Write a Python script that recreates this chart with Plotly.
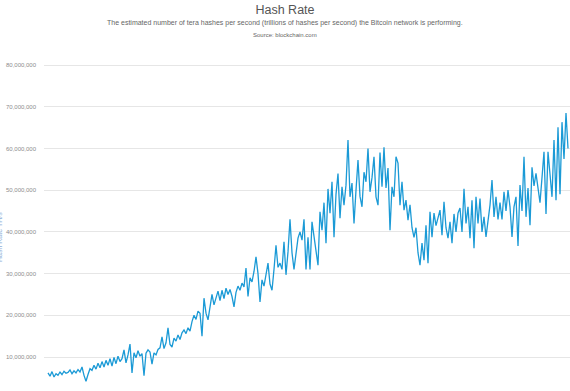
import plotly.graph_objects as go

# Hash rate values in millions of TH/s (roughly 2 px per sample)
hash_rate_millions = [
    6.2, 5.4, 6.5, 5.2, 6.0, 5.6, 6.4, 5.8, 6.6, 6.1,
    6.3, 6.9, 6.0, 6.7, 6.2, 7.0, 6.4, 7.6, 5.6, 4.2,
    5.8, 7.2, 6.8, 8.0, 7.1, 8.5, 7.4, 8.9, 7.6, 9.2,
    8.0, 9.6, 7.8, 9.9, 8.4, 10.2, 8.9, 9.6, 11.7, 8.6,
    10.5, 13.1, 6.2, 11.0, 9.8, 11.5, 10.2, 10.8, 5.5, 10.9,
    11.7, 11.2, 8.3, 11.0, 10.5, 11.8, 12.2, 14.8, 12.0, 13.4,
    17.0, 13.0, 12.4, 14.5, 13.8, 15.3, 14.2, 15.8, 16.5, 15.6,
    17.0, 16.2, 18.5, 20.0, 19.0, 21.0, 20.5, 15.0, 24.1, 20.5,
    18.9, 22.0, 25.0, 22.5, 24.5, 25.8, 23.5, 26.0, 24.0, 26.5,
    25.0, 26.2, 24.5, 22.0, 25.5, 27.0, 26.0, 27.7, 26.8, 31.3,
    24.5, 29.0, 28.0, 30.5, 34.0, 30.0, 23.2, 28.5, 27.0, 30.0,
    32.5, 27.5, 26.0, 31.0, 36.8, 31.5, 32.5, 31.0, 37.6, 29.7,
    35.2, 43.0, 35.0, 31.0, 35.5, 38.5, 40.0, 38.0, 43.0, 31.0,
    38.7, 31.0, 42.4, 39.0, 36.4, 32.0, 44.8, 40.4, 47.0, 37.3,
    50.3, 44.5, 52.0, 38.7, 49.0, 54.0, 43.3, 50.8, 46.4, 51.2,
    62.0, 48.4, 51.7, 42.0, 50.0, 57.2, 48.5, 46.0, 54.3, 52.0,
    60.0, 49.6, 53.0, 58.0, 48.4, 46.4, 59.0, 50.8, 60.3, 50.5,
    55.3, 40.4, 50.8, 48.4, 58.0, 56.5, 46.4, 52.0, 45.2, 47.6,
    42.8, 46.5, 41.0, 38.7, 41.0, 35.0, 32.0, 37.3, 33.2, 41.6,
    32.5, 44.8, 38.7, 44.5, 41.5, 43.5, 45.2, 39.2, 47.2, 41.0,
    38.5, 42.4, 37.3, 44.3, 40.0, 44.5, 45.7, 40.0, 50.3, 42.0,
    46.0, 38.5, 47.6, 36.1, 48.4, 42.0, 48.0, 40.0, 43.6, 38.8,
    43.0, 46.4, 52.4, 43.6, 48.4, 43.0, 47.0, 43.0, 49.6, 45.0,
    50.0, 46.0, 38.8, 46.0, 48.4, 36.6, 51.2, 45.0, 58.0, 43.6,
    50.5, 41.6, 55.5, 51.0, 54.0, 50.8, 47.0, 53.0, 59.2, 44.3,
    59.2, 53.8, 48.4, 62.0, 47.6, 65.1, 49.0, 66.3, 57.5, 68.5,
    60.0,
]
sample_index = list(range(len(hash_rate_millions)))
hash_rate = [v * 1_000_000 for v in hash_rate_millions]

y_tick_values = [10_000_000, 20_000_000, 30_000_000, 40_000_000,
                 50_000_000, 60_000_000, 70_000_000, 80_000_000]

title_text = "Hash Rate"
subtitle_text = ("The estimated number of tera hashes per second (trillions of hashes per second) "
                 "the Bitcoin network is performing.")
source_text = "Source: blockchain.com"
y_title_text = "Hash Rate TH/s"

W, H = 570, 391
L, R, T, B = 44, 0, 60, 0
PW, PH = W - L - R, H - T - B

FONT = "Arial, Liberation Sans, sans-serif"

fig = go.Figure()
fig.add_trace(go.Scatter(
    x=sample_index, y=hash_rate, mode="lines",
    line=dict(color="#1b9ad6", width=1.3),
    hoverinfo="skip", showlegend=False,
))

fig.update_layout(
    width=W, height=H,
    margin=dict(l=L, r=R, t=T, b=B, pad=0),
    paper_bgcolor="white", plot_bgcolor="white",
    font=dict(family=FONT),
    title=dict(text=title_text, x=0.5, xref="container", xanchor="center",
               y=1 - 10 / H, yref="container", yanchor="middle",
               font=dict(size=12.5, color="#555555", family=FONT)),
    xaxis=dict(range=[-2, len(hash_rate_millions)], visible=False),
    yaxis=dict(range=[1.85e6, 81.2e6], tickvals=y_tick_values,
               tickformat=",d", showgrid=True, gridcolor="#e6e6e6", gridwidth=1,
               zeroline=False, showline=False, ticks="",
               ticklabelstandoff=7,
               tickfont=dict(size=6, color="#8c8c8c", family=FONT)),
    annotations=[
        dict(text=subtitle_text, xref="paper", yref="paper",
             x=(285 - L) / PW, y=(H - 23) / PH, xanchor="center", yanchor="middle",
             showarrow=False, font=dict(size=7, color="#666666", family=FONT)),
        dict(text=source_text, xref="paper", yref="paper",
             x=(285 - L) / PW, y=(H - 35) / PH, xanchor="center", yanchor="middle",
             showarrow=False, font=dict(size=6, color="#666666", family=FONT)),
        dict(text=y_title_text, xref="paper", yref="paper",
             x=(-1 - L) / PW, y=(H - 237) / PH, xanchor="center", yanchor="middle",
             textangle=-90, showarrow=False,
             font=dict(size=7, color="#8fb0d8", family=FONT)),
    ],
)

fig.write_html("out.html",
               config={"displayModeBar": False},
               post_script="document.body.style.margin='0';document.body.style.overflow='hidden';")
